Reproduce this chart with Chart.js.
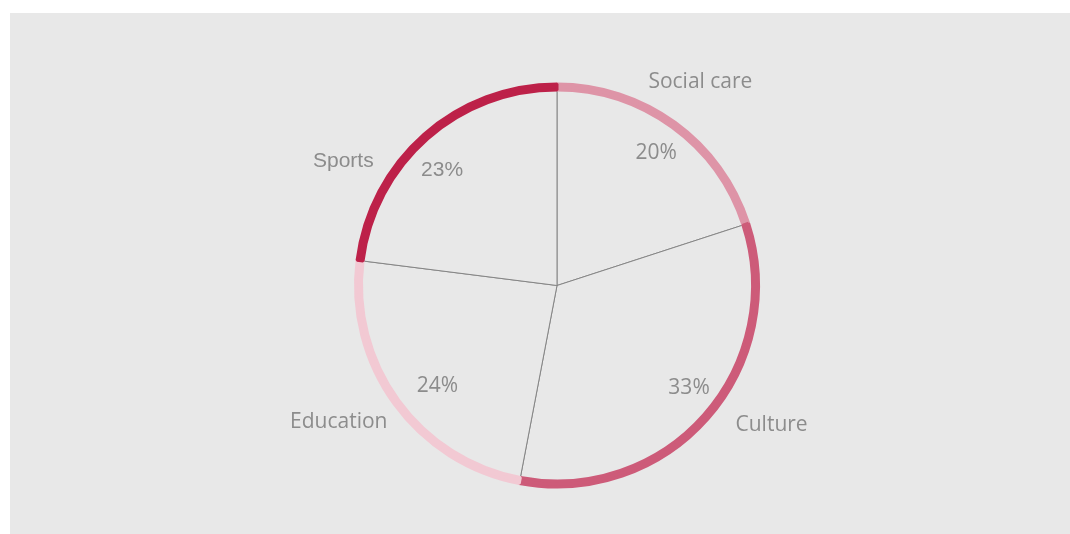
<!DOCTYPE html>
<html>
<head>
<meta charset="utf-8">
<script src="https://cdn.jsdelivr.net/npm/chart.js@4.4.1/dist/chart.umd.min.js"></script>
<style>
  html, body { margin: 0; padding: 0; background: #ffffff; }
  #wrap { position: relative; width: 1070px; height: 534px; }
  #panel { position: absolute; left: 10px; top: 13px; width: 1060px; height: 521px; background: #e8e8e8; }
  #c { position: absolute; left: 0; top: 0; }
</style>
</head>
<body>
<div id="wrap">
  <div id="panel"></div>
  <canvas id="c" width="1070" height="534"></canvas>
</div>
<script>
// ---- data ----
const categories = ["Social care", "Culture", "Education", "Sports"];
const shares = [20, 33, 24, 23];
const percentLabels = ["20%", "33%", "24%", "23%"];

// ---- styles ----
const ringColors = ["#de94a7", "#cd5b79", "#f2c9d3", "#bd2149"];
const panelBg = "#e8e8e8";
const lineGray = "#858585";
const textGray = "#8c8c8c";

// label placement (angle offset from slice middle in degrees, distance from centre in px)
const nameOffsetDeg = [-1.0, -8.7, 4.3, -18.1];
const nameDist = [250, 255, 256.5, 248];
const pctOffsetDeg = [0.6, -4.1, -3.5, -3.1];
const pctDist = [166.5, 166, 155, 164];
const nameFonts = ["'Open Sans'", "'Open Sans'", "'Open Sans'", "'Liberation Sans'"];
const pctFonts = ["'Open Sans'", "'Open Sans'", "'Open Sans'", "'Liberation Sans'"];

const labelPlugin = {
  id: 'sliceLabels',
  afterDatasetsDraw(chart) {
    const meta = chart.getDatasetMeta(1);
    const ctx = chart.ctx;
    ctx.save();
    ctx.fillStyle = textGray;
    ctx.textAlign = 'center';
    ctx.textBaseline = 'alphabetic';
    meta.data.forEach((arc, i) => {
      const p = arc.getProps(['x', 'y', 'startAngle', 'endAngle'], true);
      const mid = (p.startAngle + p.endAngle) / 2;
      const a1 = mid + nameOffsetDeg[i] * Math.PI / 180;
      const a2 = mid + pctOffsetDeg[i] * Math.PI / 180;
      ctx.font = '21px ' + nameFonts[i];
      ctx.fillText(categories[i], p.x + Math.cos(a1) * nameDist[i], p.y + Math.sin(a1) * nameDist[i] + 7.5);
      ctx.font = '21px ' + pctFonts[i];
      ctx.fillText(percentLabels[i], p.x + Math.cos(a2) * pctDist[i], p.y + Math.sin(a2) * pctDist[i] + 7.5);
    });
    ctx.restore();
  }
};

new Chart(document.getElementById('c'), {
  type: 'doughnut',
  data: {
    labels: categories,
    datasets: [
      {
        data: shares,
        backgroundColor: ringColors,
        borderColor: ringColors,
        borderWidth: 3,
        weight: 6
      },
      {
        data: shares,
        backgroundColor: panelBg,
        borderColor: lineGray,
        borderWidth: 1,
        weight: 195.5
      }
    ]
  },
  options: {
    responsive: false,
    animation: false,
    events: [],
    cutout: 0,
    layout: { padding: { left: 44, right: 0, top: 82.5, bottom: 45.5 } },
    plugins: { legend: { display: false }, tooltip: { enabled: false } }
  },
  plugins: [labelPlugin]
});
</script>
</body>
</html>
